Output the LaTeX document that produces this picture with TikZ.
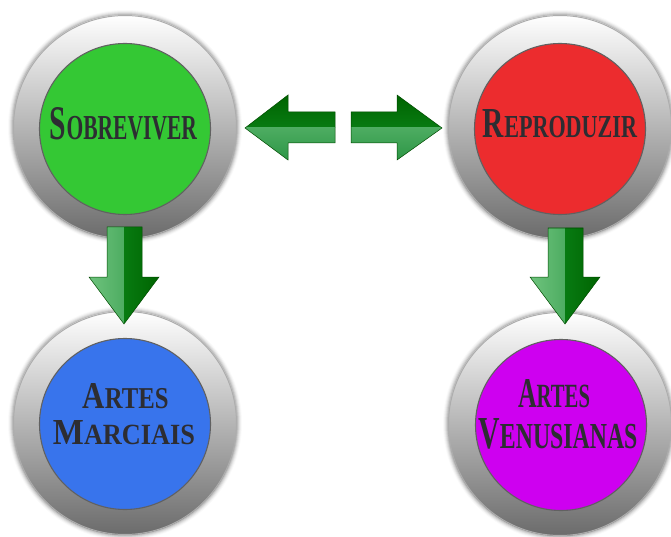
\documentclass[tikz,border=0pt]{standalone}
\usepackage{fontspec}
\setmainfont{Liberation Serif}
\usepackage{graphicx}
\definecolor{cgreen}{RGB}{52,200,52}
\definecolor{cred}{RGB}{236,44,46}
\definecolor{cblue}{RGB}{56,116,236}
\definecolor{cpurple}{RGB}{206,0,240}
\definecolor{ctext}{RGB}{45,45,50}
\definecolor{ag1}{RGB}{0,100,0}
\definecolor{ag2}{RGB}{15,145,35}
\definecolor{ag3}{RGB}{110,195,125}
\definecolor{ag4}{RGB}{45,150,70}
\definecolor{aedge}{RGB}{0,75,0}
\newcommand\lbl[5]{\resizebox{#1pt}{#2pt}{\bfseries{\fontsize{20}{20}\selectfont #3}{\fontsize{#5}{20}\selectfont #4}}}
\newcommand\ringat[1]{%
  \foreach \k/\o in {5/0.02,4/0.04,3/0.06,2/0.08,1/0.1}{\fill[black,opacity=\o] (#1) circle ({112+\k pt});}
  \shade[top color=white, middle color=black!16, bottom color=black!58] (#1) circle (112pt);
  \draw[black!32, line width=1pt] (#1) circle (111.5pt);
}
\tikzset{
  disk/.style={circle, inner sep=0pt, minimum size=171pt, draw=black!62, line width=1.1pt},
  lab/.style={anchor=base, inner sep=0pt, text=ctext},
  arredge/.style={draw=aedge, line width=0.5pt}
}
\begin{document}
\begin{tikzpicture}[x=1pt,y=-1pt]
\useasboundingbox (0,0) rectangle (671,537);
% rings
\coordinate (r1) at (125,127);
\coordinate (r2) at (560,127);
\coordinate (r3) at (125,423);
\coordinate (r4) at (560,424);
\ringat{r1}\ringat{r2}\ringat{r3}\ringat{r4}
% disks
\node[disk, fill=cgreen] (sob) at (125,129) {};
\node[disk, fill=cred] (rep) at (560,129) {};
\node[disk, fill=cblue] (mar) at (125,424) {};
\node[disk, fill=cpurple] (ven) at (561,425) {};
% labels
\node[lab] (sobt) at (123.5,140) {\lbl{147}{32}{S}{OBREVIVER}{14.5}};
\node[lab] (rept) at (560,138) {\lbl{154}{28}{R}{EPRODUZIR}{15}};
\node[lab] (mar1) at (125.5,408) {\lbl{86}{25}{A}{RTES}{16}};
\node[lab] (mar2) at (124,444) {\lbl{142}{24}{M}{ARCIAIS}{16}};
\node[lab] (ven1) at (554,407) {\lbl{72}{28}{A}{RTES}{16}};
\node[lab] (ven2) at (558,448) {\lbl{159}{30}{V}{ENUSIANAS}{16}};
% horizontal arrows
\def\larrow{(245,128) -- (288,95) -- (288,112) -- (335,112) -- (335,143) -- (288,143) -- (288,160) -- cycle}
\def\rarrow{(442,128) -- (397,95) -- (397,112) -- (351,112) -- (351,143) -- (397,143) -- (397,160) -- cycle}
\foreach \P in {\larrow,\rarrow}{
  \begin{scope}\clip (230,80) rectangle (460,128);
    \shade[top color=ag1, bottom color=ag2] \P;
  \end{scope}
  \begin{scope}\clip (230,128) rectangle (460,170);
    \shade[top color=ag3, bottom color=ag4] \P;
  \end{scope}
  \path[arredge] \P;
}
% vertical arrows
\def\dlarrow{(107,227) -- (142,227) -- (142,277) -- (159,277) -- (124,324) -- (89,277) -- (107,277) -- cycle}
\def\drarrow{(548,228) -- (583,228) -- (583,277) -- (600,277) -- (565,324) -- (530,277) -- (548,277) -- cycle}
\begin{scope}\clip (80,220) rectangle (124.5,330);
  \shade[left color=ag3, right color=ag4] \dlarrow;
\end{scope}
\begin{scope}\clip (124.5,220) rectangle (170,330);
  \shade[left color=ag2, right color=ag1] \dlarrow;
\end{scope}
\path[arredge] \dlarrow;
\begin{scope}\clip (520,220) rectangle (565.5,330);
  \shade[left color=ag3, right color=ag4] \drarrow;
\end{scope}
\begin{scope}\clip (565.5,220) rectangle (610,330);
  \shade[left color=ag2, right color=ag1] \drarrow;
\end{scope}
\path[arredge] \drarrow;
\end{tikzpicture}
\end{document}
